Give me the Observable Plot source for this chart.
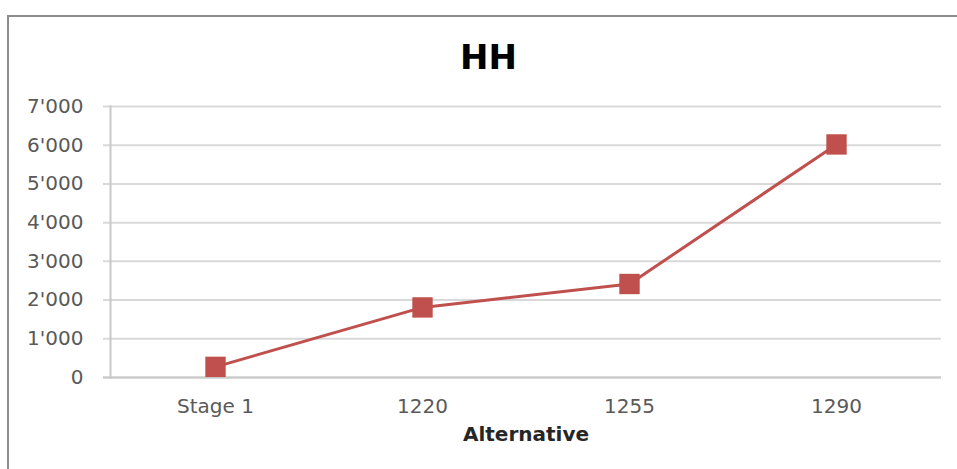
<!DOCTYPE html>
<html>
<head>
<meta charset="utf-8">
<script src="https://cdn.jsdelivr.net/npm/d3@7"></script>
<script src="https://cdn.jsdelivr.net/npm/@observablehq/plot@0.6"></script>
<style>
  html, body { margin: 0; padding: 0; background: #fff; }
  #wrap { position: relative; width: 957px; height: 469px; overflow: hidden; }
  #frame { position: absolute; left: 7px; top: 15px; width: 1000px; height: 500px;
           border-left: 2px solid #8c8c8c; border-top: 2px solid #8c8c8c; box-sizing: border-box; }
  #title { position: relative; height: 90px; line-height: 1; text-align: center;
           font-family: "DejaVu Sans", sans-serif; font-weight: bold; font-size: 34px; color: #000; }
  #title span { position: absolute; left: 0; right: 0; top: 40px; padding-left: 20px; }
  #chart { position: relative; }
</style>
</head>
<body>
<div id="wrap">
  <div id="frame"></div>
  <div id="title"><span id="titleText"></span></div>
  <div id="chart"></div>
</div>
<script>
const categories = ["Stage 1", "1220", "1255", "1290"];
const values = [275, 1810, 2415, 6020];
const yTicks = [0, 1000, 2000, 3000, 4000, 5000, 6000, 7000];
const titleText = "HH";
const xLabel = "Alternative";

document.getElementById("titleText").textContent = titleText;

const data = categories.map((c, i) => ({cat: c, v: values[i]}));
const fmt = d => d3.format(",")(d).replace(/,/g, "'");

const plot = Plot.plot({
  width: 957,
  height: 379,
  marginLeft: 110,
  marginRight: 16,
  marginTop: 16,
  marginBottom: 92,
  style: {fontFamily: "DejaVu Sans, sans-serif", fontSize: "20px", color: "#595959", background: "transparent"},
  x: {type: "point", domain: categories, padding: 0.5, label: null},
  y: {domain: [0, 7000], ticks: yTicks, label: null},
  marks: [
    Plot.ruleY(yTicks, {stroke: "#d9d9d9", strokeWidth: 2, strokeOpacity: 1, insetLeft: -7}),
    Plot.ruleY([0], {stroke: "#c8c8c8", strokeWidth: 2, insetLeft: -7}),
    Plot.frame({anchor: "left", stroke: "#c8c8c8", strokeWidth: 2}),
    Plot.axisY({ticks: yTicks, tickFormat: fmt, tickSize: 0, tickPadding: 27, fill: "#595959", fontSize: 20}),
    Plot.axisX({tickSize: 0, tickPadding: 21, fill: "#595959", fontSize: 20, label: null}),
    Plot.text([xLabel], {frameAnchor: "bottom", dy: 63, fontWeight: "bold", fill: "#262626", fontSize: 20}),
    Plot.line(data, {x: "cat", y: "v", stroke: "#C0504D", strokeWidth: 3}),
    Plot.dot(data, {x: "cat", y: "v", symbol: "square", r: 11.5, fill: "#C0504D", stroke: "none"})
  ]
});
document.getElementById("chart").appendChild(plot);
</script>
</body>
</html>
